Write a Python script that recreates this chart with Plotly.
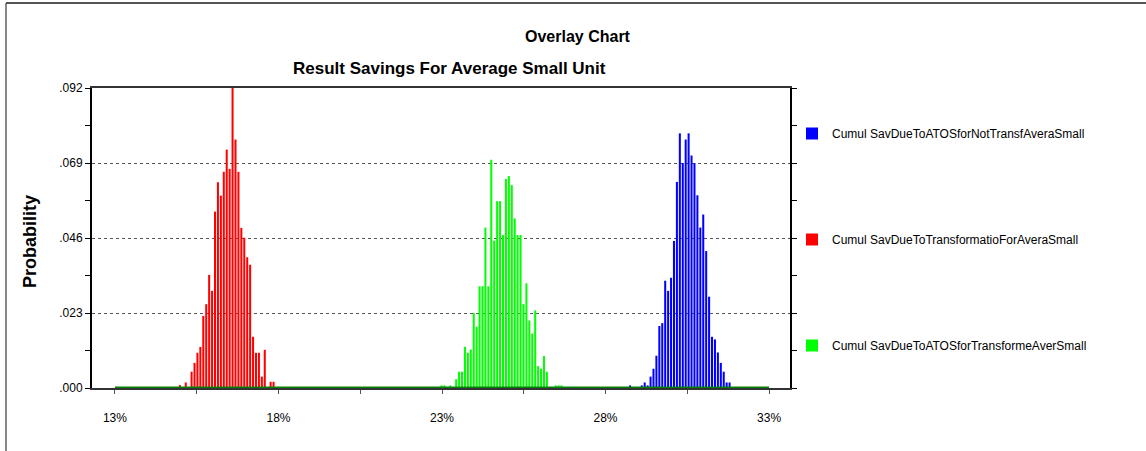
import plotly.graph_objects as go

# ---- data ----
bin_width = 0.0895  # percent per histogram bin

red_name = "Cumul SavDueToTransformatioForAveraSmall"
red_start = 14.985
red_values = [0.0009, 0, 0.0017, 0, 0.0050, 0.0077, 0.0108, 0.0126, 0.0221, 0.0257,
              0.0347, 0.0298, 0.0541, 0.0631, 0.0590, 0.0663, 0.0731, 0.0672, 0.0920,
              0.0762, 0.0663, 0.0491, 0.0461, 0.0401, 0.0378, 0.0157, 0.0108, 0.0108,
              0.0035, 0.0117, 0, 0.0019, 0.0019]

green_name = "Cumul SavDueToATOSforTransformeAverSmall"
green_start = 22.985
green_values = [0.0008, 0.0008, 0, 0.0008, 0, 0.0027, 0.0050, 0.0050, 0.0126, 0.0108,
                0.0118, 0.0230, 0.0188, 0.0312, 0.0312, 0.0492, 0.0312, 0.0700, 0.0452,
                0.0573, 0.0573, 0.0469, 0.0641, 0.0650, 0.0622, 0.0520, 0.0469, 0.0469,
                0.0257, 0.0321, 0.0207, 0.0167, 0.0238, 0.0067, 0.0059, 0.0098, 0.0050,
                0, 0, 0.0008, 0.0008, 0.0008]

blue_name = "Cumul SavDueToATOSforNotTransfAveraSmall"
blue_start = 28.75
blue_values = [0.0008, 0, 0, 0, 0.0008, 0.0017, 0.0008, 0.0035, 0.0059, 0.0099, 0.0190,
               0.0199, 0.0329, 0.0298, 0.0338, 0.0451, 0.0632, 0.0781, 0.0690, 0.0762,
               0.0781, 0.0713, 0.0690, 0.0591, 0.0492, 0.0532, 0.0420, 0.0280, 0.0157,
               0.0149, 0.0109, 0.0077, 0.0050, 0.0017, 0.0017]

x_min, x_max = 13, 33
x_tick_vals = [13, 18, 23, 28, 33]
x_tick_text = ["13%", "18%", "23%", "28%", "33%"]
y_tick_vals = [0, 0.023, 0.046, 0.069, 0.092]
y_tick_text = [".000", ".023", ".046", ".069", ".092"]

FONT = "Liberation Sans, Arial, sans-serif"

fig = go.Figure()

def add_series(name, start, values, color):
    xs = [start + i * bin_width for i in range(len(values))]
    fig.add_trace(go.Bar(
        x=xs, y=values, name=name, width=0.062,
        marker=dict(color=color, line=dict(width=0)),
        legendgroup=name,
    ))

add_series(blue_name, blue_start, blue_values, "#0000FF")
add_series(red_name, red_start, red_values, "#FF0000")
add_series(green_name, green_start, green_values, "#00FF00")

# green baseline across the simulated range
fig.add_trace(go.Scatter(
    x=[x_min, x_max], y=[0, 0], mode="lines",
    line=dict(color="#008000", width=3), showlegend=False, hoverinfo="skip",
))

L, R, T, B = 92, 356, 88, 63
W, H = 1146, 451
pw, ph = W - L - R, H - T - B

def px(xp):
    return (xp - L) / pw

def py(yp):
    return (H - B - yp) / ph

fig.update_layout(
    width=W, height=H,
    margin=dict(l=L, r=R, t=T, b=B, pad=0),
    paper_bgcolor="white", plot_bgcolor="white",
    barmode="overlay",
    font=dict(family=FONT, size=12, color="black"),
    showlegend=True,
    legend=dict(
        x=px(792), y=py(119), xanchor="left", yanchor="top",
        font=dict(family=FONT, size=12, color="black"),
        tracegroupgap=87, bgcolor="rgba(0,0,0,0)",
        itemclick=False,
    ),
    xaxis=dict(
        range=[12.298, 33.64],
        tickmode="array", tickvals=x_tick_vals, ticktext=x_tick_text,
        ticks="outside", ticklen=4, tickcolor="#555555",
        minor=dict(tickmode="array", tickvals=[15.5, 20.5, 25.5, 30.5],
                   ticks="outside", ticklen=4, tickcolor="#555555", showgrid=False),
        showline=True, linecolor="#333333", linewidth=2, mirror=True,
        showgrid=False, zeroline=False,
        ticklabelstandoff=14,
        tickfont=dict(family=FONT, size=12, color="black"),
    ),
    yaxis=dict(
        range=[0, 0.092],
        tickmode="array", tickvals=y_tick_vals, ticktext=y_tick_text,
        ticks="outside", ticklen=5, tickcolor="black",
        minor=dict(dtick=0.0115, tick0=0, ticks="outside", ticklen=5,
                   tickcolor="black", showgrid=False),
        showline=True, linecolor="black", linewidth=2, mirror="allticks",
        showgrid=True, gridcolor="#555555", griddash="dot", gridwidth=1,
        zeroline=False,
        tickfont=dict(family=FONT, size=12, color="black"),
    ),
    annotations=[
        dict(text="<b>Overlay Chart</b>", xref="paper", yref="paper",
             x=px(578), y=py(36), xanchor="center", yanchor="middle",
             showarrow=False, font=dict(family=FONT, size=16, color="black")),
        dict(text="<b>Result Savings For Average Small Unit</b>", xref="paper", yref="paper",
             x=px(449), y=py(68), xanchor="center", yanchor="middle",
             showarrow=False, font=dict(family=FONT, size=17, color="black")),
        dict(text="<b>Probability</b>", xref="paper", yref="paper",
             x=px(30), y=py(242), xanchor="center", yanchor="middle", textangle=-90,
             showarrow=False, font=dict(family=FONT, size=18, color="black")),
    ],
    shapes=[
        dict(type="line", xref="paper", yref="paper",
             x0=px(6), x1=px(6), y0=py(H + 5), y1=py(3),
             line=dict(color="#888888", width=2)),
        dict(type="line", xref="paper", yref="paper",
             x0=px(6), x1=px(W + 5), y0=py(3), y1=py(3),
             line=dict(color="#555555", width=2)),
    ],
)

fig.write_html("out.html", config={"displayModeBar": False},
               post_script="document.body.style.margin='0';")
